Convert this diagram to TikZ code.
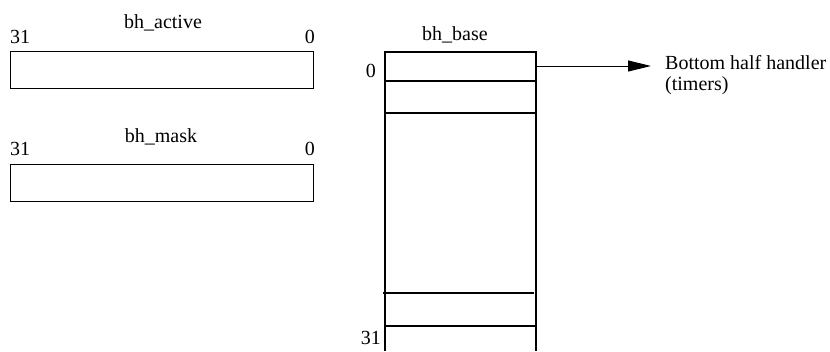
\documentclass[tikz,border=0pt]{standalone}
\usepackage{fontspec}
\setmainfont{Liberation Serif}
\usetikzlibrary{arrows.meta}
\begin{document}
\begin{tikzpicture}[x=1pt,y=-1pt,
  txt/.style={inner sep=0pt,font=\fontsize{20}{21}\selectfont},
  regbox/.style={draw,line width=1.1pt,inner sep=0pt},
  slotline/.style={line width=1.1pt}]
\useasboundingbox (0,0) rectangle (830,351);
% bh_active
\node[regbox,minimum width=303pt,minimum height=37pt,anchor=north west] (active) at (10,51) {};
\node[txt,anchor=base] (activelbl) at (163,28) {bh\_active};
\node[txt,anchor=base west] (a31) at (10,43) {31};
\node[txt,anchor=base east] (a0) at (315,43) {0};
% bh_mask
\node[regbox,minimum width=303pt,minimum height=37pt,anchor=north west] (mask) at (10,164) {};
\node[txt,anchor=base] (masklbl) at (161,142) {bh\_mask};
\node[txt,anchor=base west] (m31) at (10,155) {31};
\node[txt,anchor=base east] (m0) at (315,155) {0};
% bh_base
\node[txt,anchor=base] (baselbl) at (455,40) {bh\_base};
\coordinate (tl) at (385,52);
\coordinate (tr) at (536,52);
\coordinate (bl) at (385,351);
\coordinate (br) at (536,351);
\draw[slotline] (bl) -- (tl) -- (tr) -- (br);
\draw[slotline] (385,81) -- (535,81);
\draw[slotline] (385,113) -- (535,113);
\draw[slotline] (383,293) -- (534,293);
\draw[slotline] (385,326) -- (535,326);
\coordinate (slot0) at (536,66);
\node[txt,anchor=base east] (b0) at (376,77) {0};
\node[txt,anchor=base east] (b31) at (381,344) {31};
% handler
\node[txt,anchor=base west,align=left] (handler) at (665,69) {Bottom half handler};
\node[txt,anchor=base west] (timers) at (665,90) {(timers)};
\coordinate (tip) at (651,66);
\draw[line width=1pt,-{Triangle[length=23pt,width=11pt]}] (slot0) -- (tip);
\end{tikzpicture}
\end{document}
